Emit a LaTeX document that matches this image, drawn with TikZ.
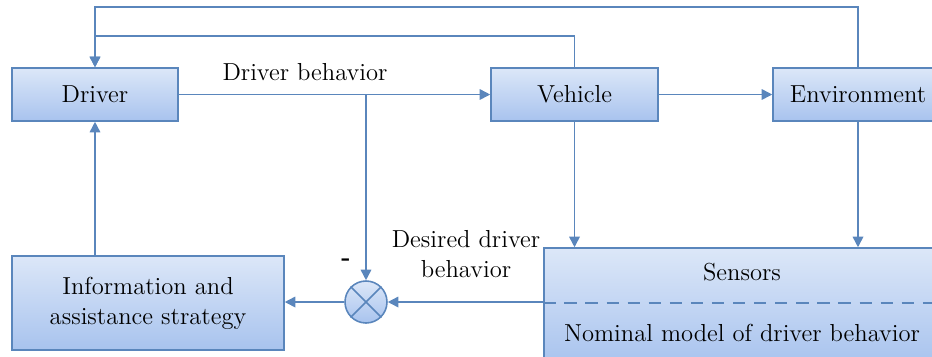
\documentclass[tikz,border=0pt]{standalone}
\usepackage{tikz}
\usetikzlibrary{arrows.meta,calc,positioning,shadows}
\definecolor{boxline}{HTML}{5A86BC}
\definecolor{boxtop}{HTML}{DCE7F8}
\definecolor{boxbottom}{HTML}{A8C3EE}

\begin{document}
\begin{tikzpicture}[x=0.02cm,y=-0.02cm,>={Triangle[length=6pt,width=6pt]},
	font=\fontsize{14}{17}\selectfont,
	block/.style={draw=boxline,line width=0.9pt,top color=boxtop,bottom color=boxbottom,
		drop shadow={opacity=0.25,shadow xshift=0.8pt,shadow yshift=-0.8pt}},
	link/.style={draw=boxline,line width=0.9pt}]
	\useasboundingbox (0,0) rectangle (932,356);

	\node [block,minimum width=3.32cm,minimum height=1.06cm] (driver) at (95,94.5) {Driver};
	\node [block,minimum width=3.34cm,minimum height=1.06cm] (vehicle) at (574.5,94.5) {Vehicle};
	\node [block,minimum width=3.4cm,minimum height=1.06cm] (env) at (858,94.5) {Environment};
	\node [block,minimum width=5.44cm,minimum height=1.88cm,align=center] (info) at (148,303)
		{Information and\\assistance strategy};
	\node [block,minimum width=7.92cm,minimum height=2.34cm] (sensors) at (742,306.5) {};
	\node (senstext) at (742,272) {Sensors};
	\node (modeltext) at (742,333) {Nominal model of driver behavior};
	\draw [link,dashed,dash pattern=on 7pt off 5pt] (sensors.west |- 0,303) -- (sensors.east |- 0,303);

	\node [draw=boxline,line width=0.9pt,circle,minimum size=0.84cm,top color=boxtop,bottom color=boxbottom] (sum) at (366,302) {};
	\draw [link] (sum.north west) -- (sum.south east);
	\draw [link] (sum.north east) -- (sum.south west);

	\node (behavior) at (305,72) {Driver behavior};
	\node (desired) [align=center] at (466,254) {Desired driver\\behavior};
	\node (minus) at (346,262) {\textbf{-}};

	\draw [link,->] (driver.east) -- (vehicle.west);
	\draw [link,->] (vehicle.east) -- (env.west);
	\draw [link,->] (sum |- driver.east) -- (sum.north);
	\draw [link,->] (vehicle.south) -- (vehicle.south |- sensors.north);
	\draw [link,->] (env.south) -- (env.south |- sensors.north);
	\draw [link,->] (sensors.west |- sum) -- (sum.east);
	\draw [link,->] (sum.west) -- (info.east |- sum);
	\draw [link,->] (driver.south |- info.north) -- (driver.south);
	\draw [link,->] (vehicle.north) -- ++(0,-31) -| (driver.north);
	\draw [link,->] (env.north) -- ++(0,-60) -| (driver.north);
\end{tikzpicture}
\end{document}
